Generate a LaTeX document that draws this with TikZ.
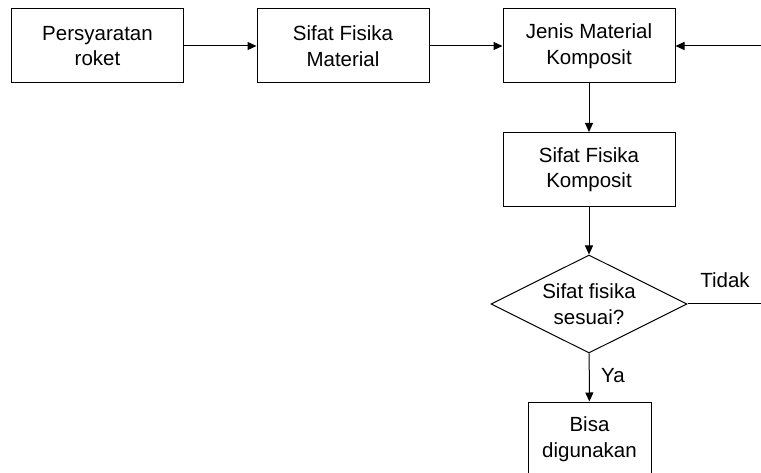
\documentclass[tikz,border=0pt]{standalone}
\usepackage{fontspec}
\setmainfont{Liberation Sans}
\usetikzlibrary{shapes.geometric,arrows.meta}
\begin{document}
\begin{tikzpicture}[x=1pt,y=-1pt,
  font=\fontsize{20.5}{25.5}\selectfont,
  box/.style={draw,line width=1pt,minimum width=172pt,minimum height=74pt,align=center,inner sep=0pt},
  smallbox/.style={box,minimum width=123pt},
  decision/.style={draw,line width=1pt,shape=diamond,minimum width=196pt,minimum height=98pt,aspect=2,align=center,inner sep=0pt},
  conn/.style={line width=1pt,-{Triangle[length=9pt,width=8pt]}},
  plain/.style={line width=1pt}]
\useasboundingbox (0,0) rectangle (761,473);
\begin{scope}
\clip (0,0) rectangle (761,473);
\node[box] (b1) at (97.5,46) {Persyaratan\\roket};
\node[box] (b2) at (343,46) {Sifat Fisika\\Material};
\node[box] (b3) at (589,46) {Jenis Material\\Komposit};
\node[box] (b4) at (589,169.5) {Sifat Fisika\\Komposit};
\node[decision] (d) at (589,304) {Sifat fisika\\sesuai?};
\node[smallbox] (b5) at (589.5,439) {Bisa\\digunakan};
\coordinate (in3) at (761,46);
\coordinate (out) at (761,304);
\draw[conn] (b1) -- (b2);
\draw[conn] (b2) -- (b3);
\draw[conn] (in3) -- (b3);
\draw[conn] (b3) -- (b4);
\draw[conn] (b4) -- (d);
\draw[conn] (d) -- (b5) node[pos=0.45,right=8pt] {Ya};
\draw[plain] (d.east) -- (out);
\node (tidak) at (725,280) {Tidak};
\end{scope}
\end{tikzpicture}
\end{document}
